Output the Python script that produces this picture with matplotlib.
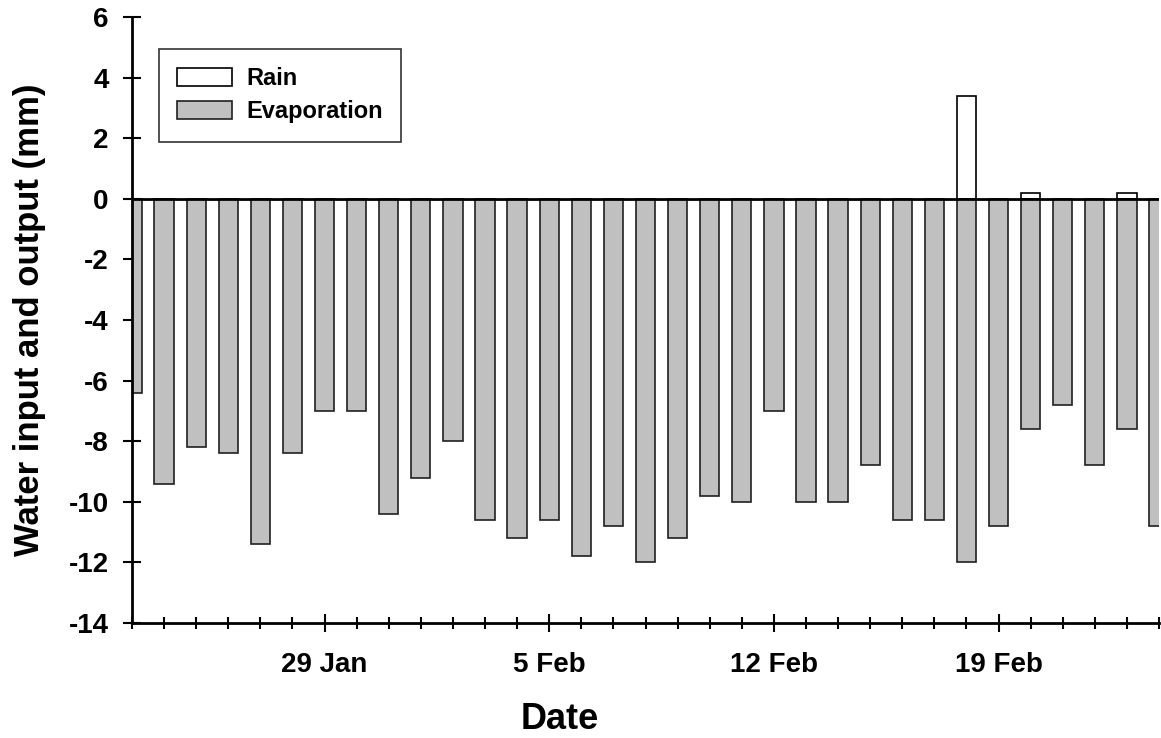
import datetime
import matplotlib
matplotlib.use("Agg")
import matplotlib.pyplot as plt
import matplotlib.dates as mdates
from matplotlib.ticker import FuncFormatter, MultipleLocator

# daily water balance, 23 Jan - 24 Feb
start = datetime.date(2001, 1, 23)
n_days = 33
evaporation = [-6.4, -9.4, -8.2, -8.4, -11.4, -8.4, -7.0, -7.0, -10.4, -9.2,
               -8.0, -10.6, -11.2, -10.6, -11.8, -10.8, -12.0, -11.2, -9.8, -10.0,
               -7.0, -10.0, -10.0, -8.8, -10.6, -10.6, -12.0, -10.8, -7.6, -6.8,
               -8.8, -7.6, -10.8]
rain = [0, 0, 0, 0, 0, 0, 0, 0, 0, 0,
        0, 0, 0, 0, 0, 0, 0, 0, 0, 0,
        0, 0, 0, 0, 0, 0, 3.4, 0, 0.2, 0,
        0, 0.2, 0]
dates = [start + datetime.timedelta(days=i) for i in range(n_days)]
x = mdates.date2num(dates)

plt.rcParams['font.family'] = ['Liberation Sans', 'DejaVu Sans']
plt.rcParams['font.weight'] = 'bold'
plt.rcParams['axes.unicode_minus'] = False

fig = plt.figure(figsize=(11.61, 7.38), dpi=100)
ax = fig.add_axes([132 / 1161, 115 / 738, 1027 / 1161, 606 / 738])

rain_x = [xi for xi, r in zip(x, rain) if r > 0]
rain_v = [r for r in rain if r > 0]
ax.bar(rain_x, rain_v, width=0.6, color='white', edgecolor='black',
       linewidth=1.2, label='Rain', zorder=2)
ax.bar(x, evaporation, width=0.6, color='#c0c0c0', edgecolor='#202020',
       linewidth=1.2, label='Evaporation', zorder=2)
ax.axhline(0, color='black', linewidth=2, zorder=3)

ax.set_xlim(x[0], x[-1])
ax.set_ylim(-14, 6)
ax.yaxis.set_major_locator(MultipleLocator(2))

ax.xaxis.set_major_locator(mdates.DayLocator(bymonthday=[29, 5, 12, 19]))
ax.xaxis.set_minor_locator(mdates.DayLocator())
ax.xaxis.set_major_formatter(FuncFormatter(
    lambda v, pos: "%d %s" % (mdates.num2date(v).day, mdates.num2date(v).strftime('%b'))))

for s in ['top', 'right']:
    ax.spines[s].set_visible(False)
for s in ['left', 'bottom']:
    ax.spines[s].set_linewidth(2)

ax.tick_params(axis='both', which='major', direction='inout', length=13.5,
               width=1.5, labelsize=20)
ax.tick_params(axis='y', pad=10)
ax.tick_params(axis='x', pad=14)
ax.tick_params(axis='x', which='minor', direction='inout', length=8, width=1.5)

ax.set_ylabel('Water input and output (mm)', fontsize=25, fontweight='bold', labelpad=16)
ax.set_xlabel('Date', fontsize=26, fontweight='bold')
ax.xaxis.set_label_coords((560 - 132) / 1027, (738 - 702 - 115) / 606)

leg = ax.legend(loc='upper left', bbox_to_anchor=(27 / 1027, 1 - 32 / 606),
                fontsize=17, frameon=True, fancybox=False, handlelength=2.3,
                handleheight=0.8, borderpad=0.78, labelspacing=0.42, handletextpad=0.6,
                borderaxespad=0)
leg.get_frame().set_edgecolor('black')
leg.get_frame().set_linewidth(1.2)

fig.savefig('out.png', dpi=100)
